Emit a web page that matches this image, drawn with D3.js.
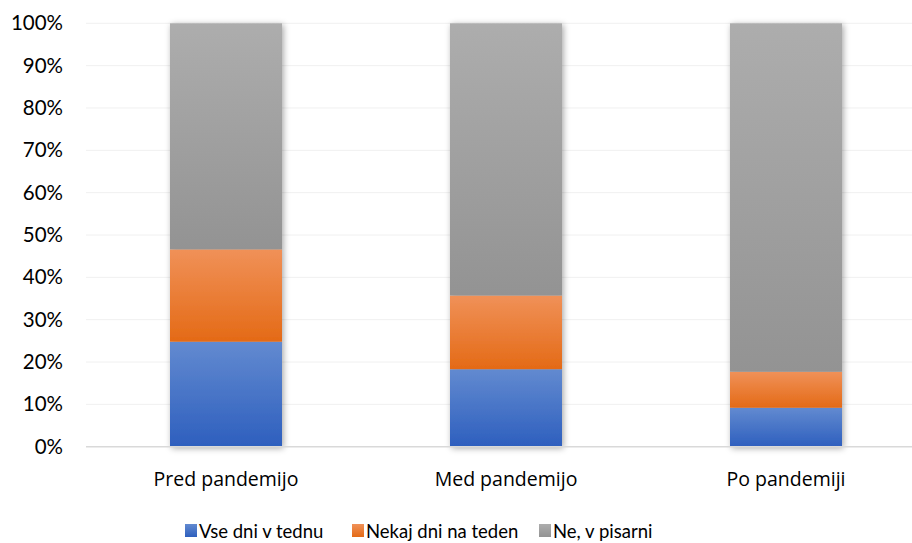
<!DOCTYPE html>
<html>
<head>
<meta charset="utf-8">
<script src="https://cdn.jsdelivr.net/npm/d3@7"></script>
<style>
  html, body { margin: 0; padding: 0; background: #fff; }
  svg { display: block; }
</style>
</head>
<body>
<svg id="chart" width="912" height="543"></svg>
<script>
// Delež dni dela od doma – pred, med in po pandemiji
const categories = ["Pred pandemijo", "Med pandemijo", "Po pandemiji"];
const seriesNames = ["Vse dni v tednu", "Nekaj dni na teden", "Ne, v pisarni"];
const vseDni = [24.8, 18.3, 9.2];
const nekajDni = [21.8, 17.4, 8.5];
const vPisarni = [53.4, 64.3, 82.3];
const yTicks = [0, 10, 20, 30, 40, 50, 60, 70, 80, 90, 100];

const seriesValues = [vseDni, nekajDni, vPisarni];
const gradients = [
  ["#628ad0", "#2e5fbe"],
  ["#f09158", "#e46a16"],
  ["#adadad", "#939393"]
];

const svg = d3.select("#chart");
const margin = { left: 86, right: -14, top: 23.3, bottom: 96.3 };
const W = 912, H = 543;

const x = d3.scaleBand()
  .domain(categories)
  .range([margin.left, W - margin.right])
  .paddingInner(0.6)
  .paddingOuter(0.3);

const y = d3.scaleLinear()
  .domain([0, 100])
  .range([H - margin.bottom, margin.top]);

const defs = svg.append("defs");
gradients.forEach((g, i) => {
  const lg = defs.append("linearGradient")
    .attr("id", "grad" + i)
    .attr("x1", 0).attr("y1", 0).attr("x2", 0).attr("y2", 1);
  lg.append("stop").attr("offset", "0%").attr("stop-color", g[0]);
  lg.append("stop").attr("offset", "100%").attr("stop-color", g[1]);
});
const shadow = defs.append("filter").attr("id", "shadow")
  .attr("x", "-20%").attr("y", "-10%").attr("width", "140%").attr("height", "120%");
shadow.append("feDropShadow")
  .attr("dx", 1.5).attr("dy", 1.5).attr("stdDeviation", 3)
  .attr("flood-color", "#000").attr("flood-opacity", 0.35);

// Mreža
svg.append("g")
  .selectAll("line")
  .data(yTicks.filter(t => t > 0))
  .join("line")
  .attr("x1", margin.left).attr("x2", W)
  .attr("y1", d => y(d)).attr("y2", d => y(d))
  .attr("stroke", "#f0f0f0").attr("stroke-width", 1);

// Os Y
const yAxis = svg.append("g")
  .attr("transform", `translate(${margin.left - 23},0)`)
  .call(d3.axisLeft(y).tickValues(yTicks).tickFormat(d => d + "%").tickSize(0).tickPadding(0));
yAxis.select(".domain").remove();
yAxis.selectAll("text")
  .attr("font-family", "Lato, 'Open Sans', sans-serif")
  .attr("font-size", 20.5)
  .attr("fill", "#000");

// Zloženi stolpci
const stack = d3.stack().keys([0, 1, 2])(categories.map((c, i) => seriesValues.map(s => s[i])));

const barsG = svg.append("g");
categories.forEach((c, ci) => {
  const g = barsG.append("g").attr("filter", "url(#shadow)");
  stack.forEach((layer, si) => {
    const d = layer[ci];
    g.append("rect")
      .attr("x", x(c))
      .attr("width", x.bandwidth())
      .attr("y", y(d[1]))
      .attr("height", y(d[0]) - y(d[1]))
      .attr("fill", `url(#grad${si})`);
  });
});

// Os X
svg.append("line")
  .attr("x1", margin.left).attr("x2", W)
  .attr("y1", y(0)).attr("y2", y(0))
  .attr("stroke", "#d9d9d9").attr("stroke-width", 1.5);

const xAxis = svg.append("g")
  .attr("transform", `translate(0,${y(0)})`)
  .call(d3.axisBottom(x).tickSize(0).tickPadding(0));
xAxis.select(".domain").remove();
xAxis.selectAll("text")
  .attr("dy", 0)
  .attr("y", 39)
  .attr("font-family", "'Open Sans', sans-serif")
  .attr("font-size", 19.5)
  .attr("fill", "#000");

// Legenda
const legendX = [185, 352, 539];
const legend = svg.append("g");
seriesNames.forEach((name, i) => {
  const lg = legend.append("g").attr("transform", `translate(${legendX[i]},524)`);
  lg.append("rect").attr("width", 12).attr("height", 13)
    .attr("fill", `url(#grad${i})`);
  lg.append("text")
    .attr("x", 14).attr("y", 14)
    .attr("font-family", "Lato, 'Open Sans', sans-serif")
    .attr("font-size", 18.5)
    .attr("fill", "#000")
    .text(name);
});
</script>
</body>
</html>
